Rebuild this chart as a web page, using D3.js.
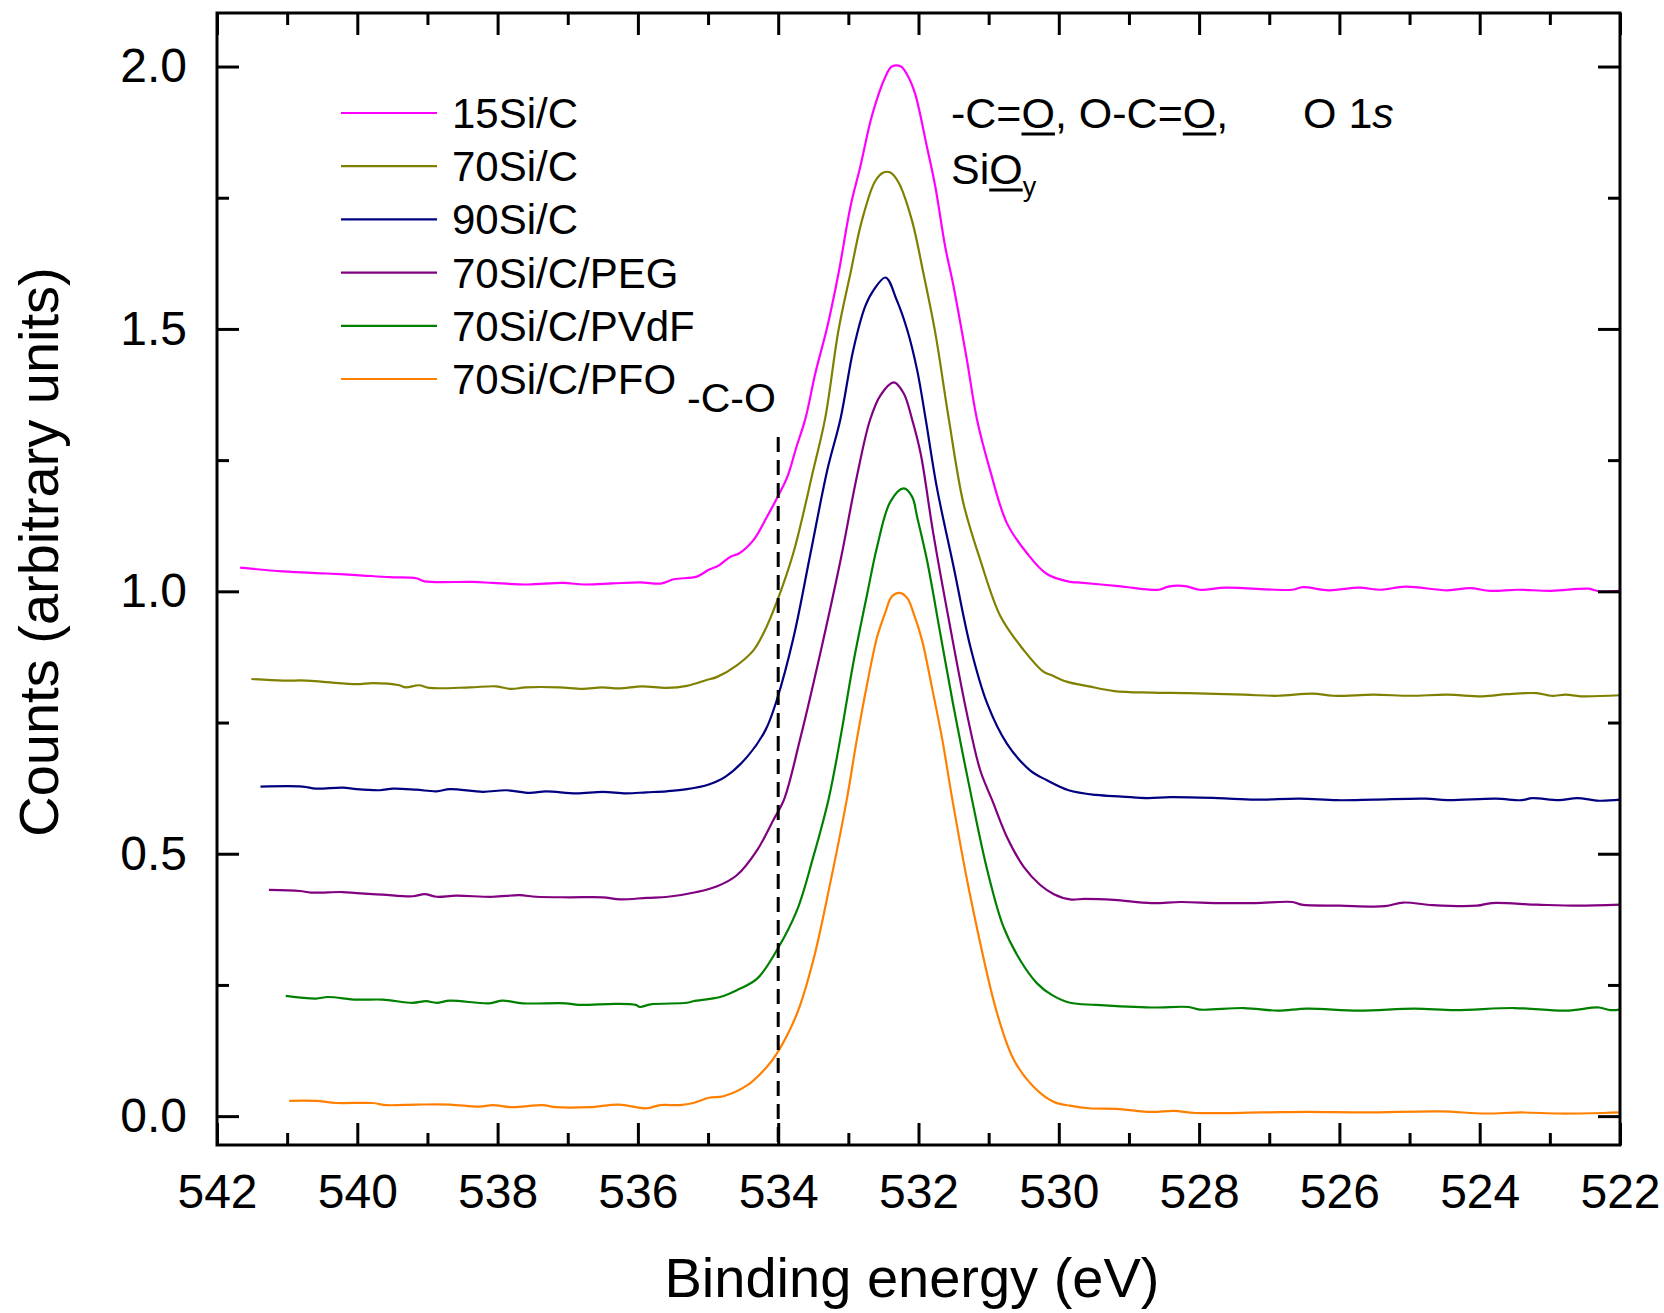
<!DOCTYPE html>
<html>
<head>
<meta charset="utf-8">
<script src="https://cdn.jsdelivr.net/npm/d3@7/dist/d3.min.js"></script>
<style>
    body { margin: 0; background: #fff; }
    svg { display: block; font-family: "Liberation Sans", Arial, sans-serif; }
</style>
</head>
<body>
<svg id="drawing_region"></svg>
<script>
// O 1s spectra, [binding energy (eV), counts]
const si15 = [
    [541.67, 1.045], [541.06, 1.038], [540.44, 1.034], [540.01, 1.031], [539.54, 1.027],
    [539.16, 1.025], [539.04, 1.019], [538.35, 1.018], [538.07, 1.016], [537.57, 1.013],
    [537.07, 1.016], [536.76, 1.013], [536.36, 1.015], [535.97, 1.017], [535.66, 1.015],
    [535.49, 1.023], [535.16, 1.028], [534.99, 1.041], [534.85, 1.049], [534.68, 1.066],
    [534.56, 1.072], [534.35, 1.098], [534.16, 1.142], [534.02, 1.177], [533.87, 1.218],
    [533.74, 1.275], [533.61, 1.330], [533.47, 1.416], [533.30, 1.504], [533.14, 1.606],
    [532.97, 1.733], [532.83, 1.809], [532.66, 1.908], [532.47, 1.981], [532.38, 2.000],
    [532.25, 2.000], [532.16, 1.984], [532.05, 1.949], [531.88, 1.847], [531.76, 1.771],
    [531.62, 1.657], [531.50, 1.581], [531.31, 1.441], [531.17, 1.330], [530.98, 1.231],
    [530.74, 1.130], [530.45, 1.072], [530.17, 1.033], [529.84, 1.018], [529.73, 1.017],
    [529.15, 1.010], [528.57, 1.003], [528.44, 1.009], [528.20, 1.010], [527.99, 1.003],
    [527.62, 1.007], [526.67, 1.003], [526.52, 1.008], [526.15, 1.002], [525.72, 1.007],
    [525.41, 1.003], [525.06, 1.009], [524.46, 1.002], [524.14, 1.006], [523.85, 1.001],
    [523.46, 1.003], [522.98, 1.001], [522.45, 1.005], [522.30, 1.000], [522.00, 1.001]
];

const si70 = [
    [541.51, 0.833], [541.06, 0.830], [540.73, 0.830], [540.44, 0.827], [540.01, 0.823],
    [539.78, 0.825], [539.40, 0.821], [539.31, 0.817], [539.12, 0.821], [538.97, 0.816],
    [538.40, 0.817], [538.02, 0.819], [537.81, 0.814], [537.60, 0.817], [537.12, 0.817],
    [536.79, 0.814], [536.51, 0.817], [536.27, 0.815], [535.94, 0.819], [535.59, 0.816],
    [535.30, 0.820], [535.02, 0.831], [534.87, 0.837], [534.59, 0.859], [534.35, 0.888],
    [534.21, 0.920], [534.02, 0.980], [533.78, 1.075], [533.50, 1.231], [533.33, 1.330],
    [533.14, 1.498], [532.97, 1.606], [532.81, 1.705], [532.62, 1.781], [532.50, 1.798],
    [532.40, 1.798], [532.28, 1.778], [532.09, 1.705], [531.93, 1.606], [531.76, 1.492],
    [531.57, 1.330], [531.36, 1.168], [531.12, 1.060], [530.83, 0.952], [530.50, 0.888],
    [530.22, 0.847], [530.10, 0.840], [529.89, 0.828], [529.57, 0.819], [529.21, 0.810],
    [528.68, 0.807], [528.15, 0.806], [527.36, 0.803], [526.88, 0.801], [526.38, 0.805],
    [526.09, 0.801], [525.51, 0.803], [524.99, 0.801], [524.46, 0.803], [523.96, 0.800],
    [523.61, 0.804], [523.19, 0.806], [522.98, 0.801], [522.77, 0.803], [522.56, 0.800],
    [522.00, 0.802]
];

const si90 = [
    [541.38, 0.628], [540.78, 0.628], [540.59, 0.624], [540.21, 0.626], [540.01, 0.623],
    [539.68, 0.621], [539.49, 0.624], [539.16, 0.622], [538.87, 0.619], [538.68, 0.623],
    [538.21, 0.618], [537.88, 0.621], [537.54, 0.616], [537.31, 0.619], [536.88, 0.615],
    [536.50, 0.618], [536.17, 0.615], [535.88, 0.617], [535.59, 0.619], [535.30, 0.623],
    [534.99, 0.632], [534.75, 0.647], [534.44, 0.685], [534.18, 0.736], [534.02, 0.793],
    [533.78, 0.913], [533.54, 1.072], [533.30, 1.231], [533.11, 1.330], [532.93, 1.460],
    [532.76, 1.543], [532.64, 1.574], [532.47, 1.598], [532.31, 1.555], [532.16, 1.498],
    [532.02, 1.422], [531.90, 1.330], [531.74, 1.199], [531.50, 1.047], [531.26, 0.894],
    [531.02, 0.786], [530.74, 0.710], [530.41, 0.659], [530.17, 0.640], [529.86, 0.621],
    [529.47, 0.612], [529.10, 0.609], [528.73, 0.606], [528.41, 0.608], [527.73, 0.606],
    [527.20, 0.603], [526.57, 0.605], [526.04, 0.602], [525.51, 0.603], [524.77, 0.605],
    [524.46, 0.602], [523.77, 0.605], [523.40, 0.602], [523.25, 0.606], [522.87, 0.602],
    [522.61, 0.606], [522.30, 0.601], [522.00, 0.603]
];

const si70Peg = [
    [541.26, 0.431], [540.82, 0.429], [540.66, 0.426], [540.21, 0.427], [540.01, 0.425],
    [539.64, 0.422], [539.21, 0.419], [539.04, 0.423], [538.87, 0.418], [538.59, 0.420],
    [538.07, 0.418], [537.69, 0.421], [537.45, 0.418], [536.98, 0.417], [536.50, 0.417],
    [536.25, 0.413], [535.87, 0.416], [535.57, 0.418], [535.16, 0.427], [534.87, 0.438],
    [534.59, 0.459], [534.30, 0.507], [534.07, 0.564], [533.92, 0.602], [533.69, 0.717],
    [533.40, 0.882], [533.11, 1.060], [532.88, 1.218], [532.69, 1.327], [532.54, 1.374],
    [532.35, 1.398], [532.21, 1.377], [532.09, 1.327], [531.97, 1.263], [531.79, 1.111],
    [531.55, 0.933], [531.31, 0.767], [531.12, 0.659], [530.95, 0.602], [530.74, 0.532],
    [530.50, 0.475], [530.26, 0.440], [530.07, 0.423], [529.84, 0.413], [529.63, 0.414],
    [529.21, 0.412], [528.68, 0.406], [528.26, 0.408], [527.73, 0.406], [527.20, 0.406],
    [526.67, 0.408], [526.54, 0.403], [525.99, 0.401], [525.35, 0.400], [525.09, 0.407],
    [524.67, 0.402], [524.04, 0.401], [523.83, 0.406], [523.19, 0.403], [522.61, 0.401],
    [522.00, 0.403]
];

const si70Pvdf = [
    [541.02, 0.229], [540.59, 0.224], [540.42, 0.227], [540.01, 0.222], [539.64, 0.222],
    [539.21, 0.216], [539.02, 0.219], [538.87, 0.216], [538.68, 0.220], [538.12, 0.215],
    [537.93, 0.220], [537.64, 0.215], [537.03, 0.215], [536.84, 0.212], [536.32, 0.214],
    [536.03, 0.212], [535.97, 0.208], [535.82, 0.213], [535.30, 0.216], [535.21, 0.219],
    [534.83, 0.227], [534.59, 0.240], [534.30, 0.262], [534.02, 0.316], [533.73, 0.393],
    [533.50, 0.494], [533.28, 0.605], [533.11, 0.723], [532.93, 0.863], [532.73, 0.996],
    [532.59, 1.085], [532.40, 1.171], [532.21, 1.196], [532.09, 1.180], [532.02, 1.142],
    [531.88, 1.060], [531.69, 0.920], [531.50, 0.780], [531.24, 0.605], [531.02, 0.469],
    [530.79, 0.361], [530.55, 0.297], [530.31, 0.253], [530.10, 0.231], [529.84, 0.216],
    [529.47, 0.212], [528.68, 0.207], [528.15, 0.208], [527.99, 0.203], [527.36, 0.206],
    [526.88, 0.201], [526.46, 0.205], [525.72, 0.201], [524.93, 0.205], [524.35, 0.202],
    [523.51, 0.206], [522.77, 0.201], [522.30, 0.207], [522.14, 0.202], [522.00, 0.203]
];

const si70Pfo = [
    [540.97, 0.029], [540.59, 0.029], [540.30, 0.025], [539.78, 0.025], [539.59, 0.021],
    [539.16, 0.022], [538.68, 0.022], [538.26, 0.018], [538.07, 0.021], [537.79, 0.017],
    [537.36, 0.021], [537.17, 0.017], [536.69, 0.017], [536.27, 0.022], [535.88, 0.015],
    [535.68, 0.021], [535.40, 0.021], [535.21, 0.025], [534.99, 0.035], [534.78, 0.038],
    [534.44, 0.059], [534.16, 0.094], [534.02, 0.119], [533.73, 0.196], [533.50, 0.297],
    [533.26, 0.443], [533.02, 0.605], [532.88, 0.717], [532.73, 0.825], [532.59, 0.913],
    [532.47, 0.961], [532.38, 0.990], [532.27, 0.997], [532.16, 0.987], [532.07, 0.958],
    [531.95, 0.907], [531.81, 0.818], [531.66, 0.717], [531.52, 0.605], [531.26, 0.418],
    [530.88, 0.196], [530.64, 0.107], [530.36, 0.056], [530.07, 0.027], [529.84, 0.020],
    [529.57, 0.015], [529.18, 0.014], [528.68, 0.008], [528.36, 0.010], [528.05, 0.006],
    [527.10, 0.007], [526.46, 0.008], [525.62, 0.007], [524.56, 0.009], [523.93, 0.005],
    [523.40, 0.007], [522.87, 0.005], [522.24, 0.006], [522.00, 0.007]
];

const seriesNames = ["15Si/C", "70Si/C", "90Si/C", "70Si/C/PEG", "70Si/C/PVdF", "70Si/C/PFO"];
const seriesData = [si15, si70, si90, si70Peg, si70Pvdf, si70Pfo];
const seriesColors = ["#ff00ff", "#808000", "#000080", "#800080", "#008000", "#ff8000"];

const xMajorTicks = [542, 540, 538, 536, 534, 532, 530, 528, 526, 524, 522];
const xMinorTicks = [541, 539, 537, 535, 533, 531, 529, 527, 525, 523];
const yMajorTicks = [0, 0.5, 1.0, 1.5, 2.0];
const yMinorTicks = [0.25, 0.75, 1.25, 1.75];

// -C-O position marker
const coEnergy = 534;
const coTop = 1.294;

const config = {
    width: 1664,
    height: 1313,
    margin: { left: 217, top: 13, right: 44, bottom: 168 }
};

const svg = d3.select("#drawing_region")
    .attr("width", config.width)
    .attr("height", config.height);

const innerW = config.width - config.margin.left - config.margin.right;
const innerH = config.height - config.margin.top - config.margin.bottom;

const chart = svg.append("g")
    .attr("transform", `translate(${config.margin.left}, ${config.margin.top})`);

const xScale = d3.scaleLinear().domain([542, 522]).range([0, innerW]);
const yScale = d3.scaleLinear().domain([-0.055, 2.102]).range([innerH, 0]);

// spectra
const line = d3.line()
    .x(d => xScale(d[0]))
    .y(d => yScale(d[1]))
    .curve(d3.curveCatmullRom.alpha(0.5));

chart.selectAll("path.spectrum")
    .data(seriesData)
    .enter()
    .append("path")
    .attr("class", "spectrum")
    .attr("d", line)
    .attr("fill", "none")
    .attr("stroke", (d, i) => seriesColors[i])
    .attr("stroke-width", 2.2)
    .attr("stroke-linejoin", "round");

// dashed marker at the -C-O energy
chart.append("line")
    .attr("x1", xScale(coEnergy))
    .attr("x2", xScale(coEnergy))
    .attr("y1", yScale(coTop))
    .attr("y2", innerH)
    .attr("stroke", "black")
    .attr("stroke-width", 3)
    .attr("stroke-dasharray", "15,8");

// axes, ticks pointing inward on all four sides
function styleAxis(g) {
    g.select(".domain").remove();
    g.selectAll(".tick line").attr("stroke", "black").attr("stroke-width", 3);
    g.selectAll(".tick text")
        .attr("fill", "black")
        .style("font-size", "48px")
        .style("font-family", "'Liberation Sans', Arial, sans-serif");
}

chart.append("g")
    .attr("transform", `translate(0, ${innerH})`)
    .call(d3.axisBottom(xScale).tickValues(xMinorTicks).tickSize(-12).tickFormat(""))
    .call(styleAxis);
chart.append("g")
    .attr("transform", `translate(0, ${innerH})`)
    .call(d3.axisBottom(xScale).tickValues(xMajorTicks).tickSize(-22).tickPadding(29)
        .tickFormat(d3.format("d")))
    .call(styleAxis);

chart.append("g")
    .call(d3.axisTop(xScale).tickValues(xMinorTicks).tickSize(-12).tickFormat(""))
    .call(styleAxis);
chart.append("g")
    .call(d3.axisTop(xScale).tickValues(xMajorTicks).tickSize(-22).tickFormat(""))
    .call(styleAxis);

chart.append("g")
    .call(d3.axisLeft(yScale).tickValues(yMinorTicks).tickSize(-12).tickFormat(""))
    .call(styleAxis);
chart.append("g")
    .call(d3.axisLeft(yScale).tickValues(yMajorTicks).tickSize(-22).tickPadding(30)
        .tickFormat(d3.format(".1f")))
    .call(styleAxis);

chart.append("g")
    .attr("transform", `translate(${innerW}, 0)`)
    .call(d3.axisRight(yScale).tickValues(yMinorTicks).tickSize(-12).tickFormat(""))
    .call(styleAxis);
chart.append("g")
    .attr("transform", `translate(${innerW}, 0)`)
    .call(d3.axisRight(yScale).tickValues(yMajorTicks).tickSize(-22).tickFormat(""))
    .call(styleAxis);

// frame
chart.append("rect")
    .attr("width", innerW)
    .attr("height", innerH)
    .attr("fill", "none")
    .attr("stroke", "black")
    .attr("stroke-width", 3);

// axis titles
svg.append("text")
    .attr("x", 912)
    .attr("y", 1297)
    .attr("text-anchor", "middle")
    .attr("font-size", "56px")
    .text("Binding energy (eV)");

svg.append("text")
    .attr("transform", "translate(58, 552) rotate(-90)")
    .attr("text-anchor", "middle")
    .attr("font-size", "56px")
    .text("Counts (arbitrary units)");

// legend
const legend = svg.append("g").attr("transform", "translate(341, 113)");
const rows = legend.selectAll("g")
    .data(seriesNames)
    .enter()
    .append("g")
    .attr("transform", (d, i) => `translate(0, ${i * 53.2})`);
rows.append("line")
    .attr("x1", 0).attr("x2", 96)
    .attr("stroke", (d, i) => seriesColors[i])
    .attr("stroke-width", 2.2);
rows.append("text")
    .attr("x", 111)
    .attr("y", 15)
    .attr("font-size", "42px")
    .text(d => d);

// peak assignment labels
function labelLine(x, y, parts) {
    const t = svg.append("text").attr("x", x).attr("y", y).attr("font-size", "43px");
    parts.forEach(p => {
        const s = t.append("tspan").text(p.text);
        if (p.italic) s.attr("font-style", "italic");
        if (p.sub) s.attr("font-size", "27px").attr("dy", 12);
        if (p.underline) s.classed("ul", true);
    });
    t.selectAll("tspan.ul").each(function() {
        const n = this.getNumberOfChars();
        const x0 = this.getStartPositionOfChar(0).x;
        const x1 = this.getEndPositionOfChar(n - 1).x;
        svg.append("line")
            .attr("x1", x0).attr("x2", x1)
            .attr("y1", y + 6).attr("y2", y + 6)
            .attr("stroke", "black")
            .attr("stroke-width", 3.2);
    });
    return t;
}

labelLine(951, 128, [
    { text: "-C=" }, { text: "O", underline: true },
    { text: ", O-C=" }, { text: "O", underline: true }, { text: "," }
]);
labelLine(951, 184, [
    { text: "Si" }, { text: "O", underline: true }, { text: "y", sub: true }
]);
labelLine(1303, 128, [{ text: "O 1" }, { text: "s", italic: true }]);

svg.append("text")
    .attr("x", 687)
    .attr("y", 412)
    .attr("font-size", "41px")
    .text("-C-O");
</script>
</body>
</html>
